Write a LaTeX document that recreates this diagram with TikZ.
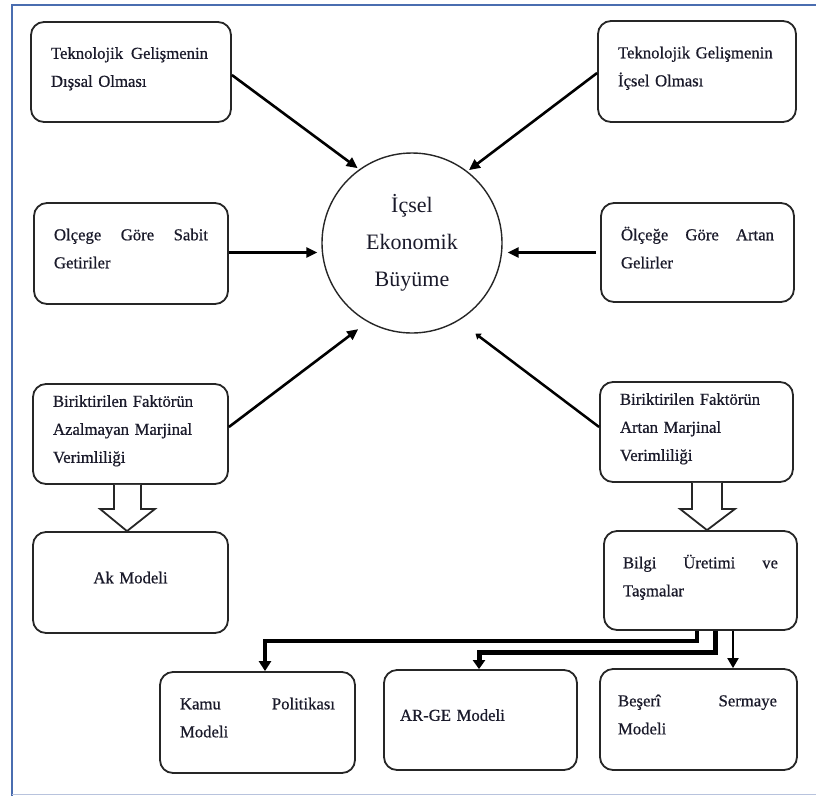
\documentclass[tikz,border=0pt]{standalone}
\usepackage{fontspec}
\setmainfont{Liberation Serif}
\newfontfamily\boxfont{Liberation Serif}[FakeBold=0.7]
\usetikzlibrary{arrows.meta,calc}
\definecolor{frameblue}{HTML}{4A6DB0}
\definecolor{framelight}{HTML}{B8C3DD}
\definecolor{ink}{HTML}{1A1A2A}
\newcommand\jline[2]{\hbox to #1{#2}}
\newcommand\lift{\rule[-10pt]{0pt}{10pt}}
\begin{document}
\begin{tikzpicture}[x=1pt,y=-1pt,
  box/.style={draw=black!85, line width=1.8pt, rounded corners=13pt, inner xsep=20pt, inner ysep=0pt,
    align=left, text=ink, font=\boxfont\fontsize{16.7}{28}\selectfont},
  bigc/.style={draw=black!85, line width=1.4pt, circle, minimum size=180pt, inner sep=0pt,
    align=center, text=ink, font=\fontsize{22}{37}\selectfont},
  conn/.style={line width=2.6pt, -{Triangle[length=11pt,width=10pt]}},
  thickconn/.style={line width=4.5pt, -{Triangle[length=10pt,width=12pt]}},
  thinconn/.style={line width=2pt, -{Triangle[length=10pt,width=11pt]}},
  hollow/.style={draw=black!85, line width=1.8pt, fill=white, line join=miter}
]
\useasboundingbox (0,0) rectangle (816,796);
% frame
\draw[frameblue, line width=2pt] (12,796) -- (12,5) -- (816,5);
\draw[framelight, line width=1.5pt] (12,794.5) -- (816,794.5);

% circle
\node[bigc] (c) at (412,243) {İçsel\\Ekonomik\\Büyüme};

% boxes
\node[box, minimum width=196pt, minimum height=100pt, text width=160pt] (tl) at (131,72)
  {\jline{157pt}{Teknolojik\hfill Gelişmenin}\\Dışsal Olması\lift};
\node[box, minimum width=194pt, minimum height=101pt, text width=154pt] (ml) at (131,253.5)
  {\jline{154pt}{Olçege\hfill Göre\hfill Sabit}\\Getiriler\lift};
\node[box, minimum width=194pt, minimum height=101pt, text width=158pt] (tr) at (697,71.5)
  {Teknolojik Gelişmenin\\İçsel Olması\lift};
\node[box, minimum width=193pt, minimum height=99pt, text width=153pt] (mr) at (697.5,252.5)
  {\jline{153pt}{Ölçeğe\hfill Göre\hfill Artan}\\Gelirler\lift};
\node[box, minimum width=195pt, minimum height=100pt, text width=155pt] (bl) at (130.5,434)
  {Biriktirilen Faktörün\\Azalmayan Marjinal\\Verimliliği\lift};
\node[box, minimum width=193pt, minimum height=100pt, text width=153pt] (br) at (696.5,432)
  {Biriktirilen Faktörün\\Artan Marjinal\\Verimliliği\lift};
\node[box, minimum width=195pt, minimum height=101pt, text width=155pt, align=center] (ak) at (130.5,582.5)
  {Ak Modeli\lift};
\node[box, minimum width=193pt, minimum height=99pt, text width=155pt, inner xsep=19pt] (bilgi) at (700.5,580.5)
  {\jline{155pt}{Bilgi\hfill Üretimi\hfill ve}\\Taşmalar\lift};
\node[box, minimum width=195pt, minimum height=101pt, text width=155pt] (kamu) at (257.5,722.5)
  {\jline{155pt}{Kamu\hfill Politikası}\\Modeli\lift};
\node[box, minimum width=193pt, minimum height=100pt, text width=161pt, inner xsep=16pt] (arge) at (480.5,720)
  {AR-GE Modeli\lift};
\node[box, minimum width=197pt, minimum height=101pt, text width=161pt, inner xsep=18pt] (beseri) at (698.5,719.5)
  {\jline{159pt}{Beşerî\hfill Sermaye}\\Modeli\lift};

% arrows to the circle
\draw[conn] ($(tl.east)+(0,3)$) -- ($(c.center)!1.02!(c.126)$);
\draw[conn] ($(tr.west)+(0,1.5)$) -- ($(c.center)!1.02!(c.52)$);
\draw[conn] ($(ml.east)+(0,-1)$) -- ($(c.west |- ml.east)+(-4,-1)$);
\draw[conn] ($(mr.west)+(-4,0)$) -- ($(c.east |- mr.west)+(5,0)$);
\draw[conn] ($(bl.east)+(0,-7)$) -- ($(c.center)!1.12!(c.238)$);
\draw[line width=2.5pt, -{Triangle[length=5pt,width=7pt]}] ($(br.west)+(0,-5)$) -- ($(c.center)!1.22!(c.305)$);

% hollow arrows
\draw[hollow] ($(bl.south)+(-16.5,0)$) -- ++(0,24) -- ++(-14,0) -- ($(ak.north)+(-3.5,0)$)
  -- ($(bl.south)+(24.5,24)$) -- ++(-14,0) -- ($(bl.south)+(10.5,0)$);
\draw[hollow] ($(br.south)+(-4.5,0)$) -- ++(0,26) -- ++(-12,0) -- ($(bilgi.north)+(6.5,0)$)
  -- ($(br.south)+(38.5,26)$) -- ++(-13,0) -- ($(br.south)+(25.5,0)$);

% connectors from Bilgi
\coordinate (s1) at ($(bilgi.south)+(-3.5,0)$);
\coordinate (s2) at ($(bilgi.south)+(14.5,0)$);
\coordinate (s3) at ($(bilgi.south)+(32.5,0)$);
\draw[thickconn] (s1) -- ++(0,10) -| ($(kamu.north)+(7.5,0)$);
\draw[line width=5pt, -{Triangle[length=9pt,width=12pt]}] (s2) -- ++(0,21.5) -| ($(arge.north)+(-1.5,0)$);
\draw[thinconn] (s3) -- (s3 |- beseri.north);
\end{tikzpicture}
\end{document}
